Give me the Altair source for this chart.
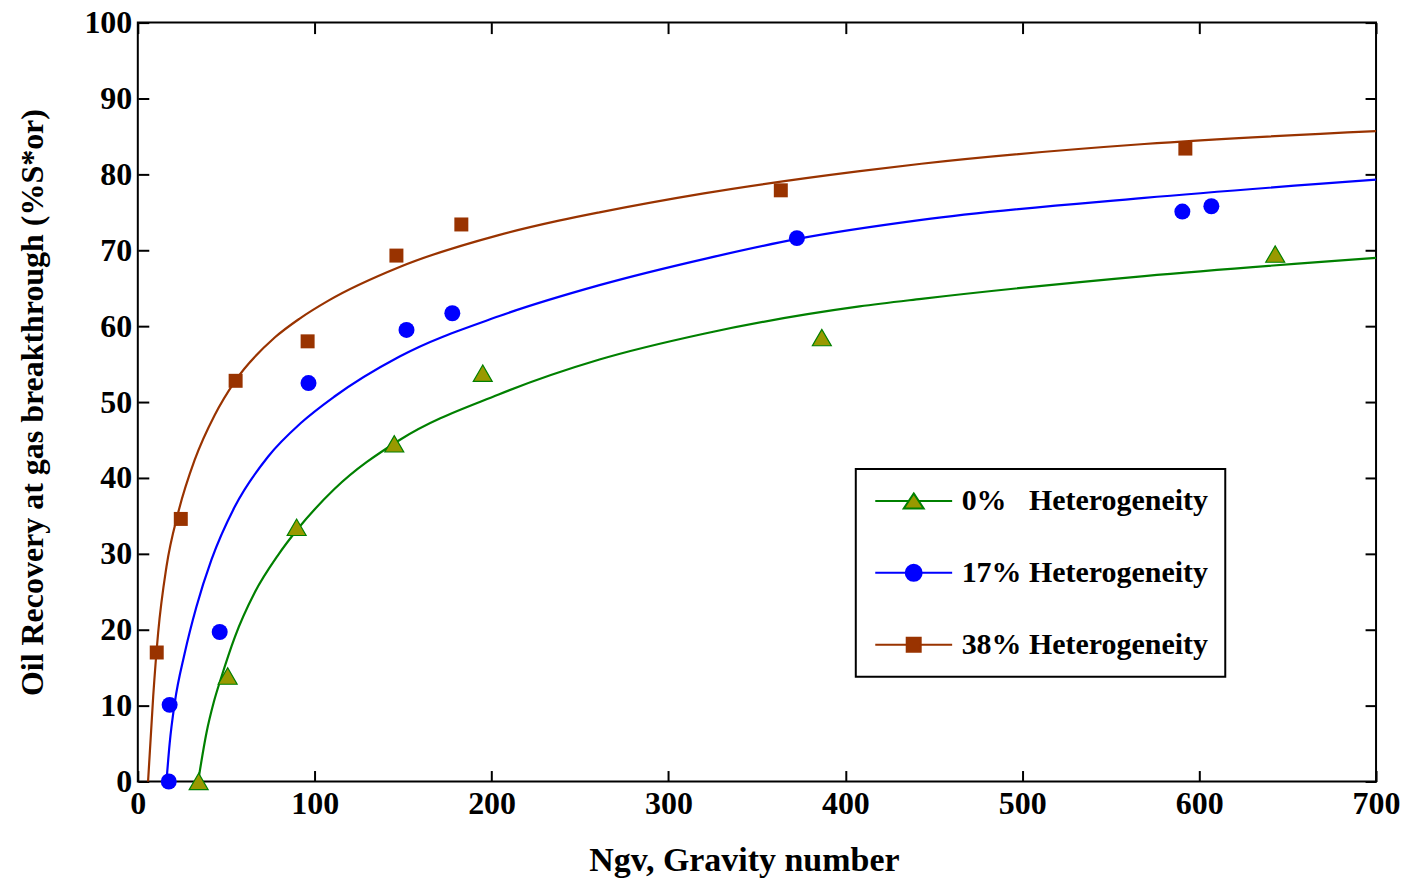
import altair as alt
import pandas as pd

# ---------------- data ----------------
SERIES = ["0%\u00a0\u00a0\u00a0Heterogeneity", "17% Heterogeneity", "38% Heterogeneity"]

# fitted trend curves
FIT0_X = [34.1, 38.8, 43, 47.3, 54.8, 66.1, 79.2, 90.5, 111, 148, 204, 261, 320, 408, 443, 569, 700]
FIT0_Y = [0, 6.4, 10.5, 13.8, 19.0, 24.9, 29.8, 33.3, 38.5, 45.0, 51.0, 55.6, 59.0, 62.6, 63.6, 66.6, 69.0]

FIT1_X = [16.2, 18, 20.9, 26.5, 33.1, 41.6, 54.8, 73.6, 92, 111, 148, 204, 261, 323, 373, 443, 569, 700]
FIT1_Y = [0, 5, 10.4, 16.9, 23.0, 29.2, 36.2, 42.8, 47.2, 50.7, 56.0, 61.3, 65.4, 69.0, 71.5, 74.0, 76.9, 79.3]

FIT2_X = [5.8, 8.7, 11.5, 16.2, 22.8, 32.2, 43.5, 54.8, 77.4, 91.5, 108, 148, 204, 238, 261, 320, 407, 443, 569, 700]
FIT2_Y = [0, 11.2, 19.6, 28.3, 35.4, 42.4, 48.3, 52.7, 58.5, 61.0, 63.4, 67.8, 72.0, 73.9, 75.0, 77.5, 80.4, 81.4, 84.0, 85.7]

# measured points
P0_X = [34.4, 50.8, 89.8, 145, 195, 386.7, 643]
P0_Y = [0, 13.9, 33.5, 44.5, 53.8, 58.5, 69.5]
P1_X = [17.5, 18, 46.3, 96.5, 151.9, 177.8, 372.6, 590.5, 606.9]
P1_Y = [0, 10.1, 19.7, 52.5, 59.5, 61.7, 71.6, 75.1, 75.8]
P2_X = [10.7, 24.3, 55.3, 96, 146.2, 182.9, 363.5, 592.2]
P2_Y = [17, 34.6, 52.8, 58.0, 69.3, 73.4, 77.9, 83.4]

X_TICKS = [0, 100, 200, 300, 400, 500, 600, 700]
Y_TICKS = [0, 10, 20, 30, 40, 50, 60, 70, 80, 90, 100]

# ---------------- styling ----------------
W, H = 1240, 760
FONT = "Liberation Serif"
GREEN, OLIVE, BLUE, BROWN = "#008000", "#999900", "#0000FF", "#993300"

# legend symbols: line sample with marker in the middle (unit = sqrt(size)/2)
SYM_TRI = "M-3.85,0H-0.5M0.5,0H3.85M0,-0.75L1,0.75L-1,0.75Z"
SYM_CIR = "M-3.85,0H-0.8M0.8,0H3.85M-0.8,0A0.8,0.8 0 1,0 0.8,0A0.8,0.8 0 1,0 -0.8,0Z"
SYM_SQR = "M-3.85,0H-0.7M0.7,0H3.85M-0.7,-0.7H0.7V0.7H-0.7Z"

xscale = alt.Scale(domain=[0, 700], nice=False, zero=False)
yscale = alt.Scale(domain=[0, 100], nice=False, zero=False)


def df(xs, ys):
    return pd.DataFrame({"x": xs, "y": ys})


tick_common = dict(labels=False, domain=False, title=None, grid=False,
                   tickSize=11, tickWidth=2, tickColor="black")

axis_x_main = alt.Axis(values=X_TICKS, title="Ngv, Gravity number", ticks=False, domain=False,
                       grid=False, labelFont=FONT, labelFontSize=32, labelFontWeight="bold",
                       labelColor="black", labelPadding=7, labelFlush=False,
                       titleFont=FONT, titleFontSize=34, titleFontWeight="bold",
                       titleColor="black", titlePadding=24, titleX=607, titleAlign="center")
axis_y_main = alt.Axis(values=Y_TICKS, title="Oil Recovery at gas breakthrough (%S*or)",
                       ticks=False, domain=False, grid=False, labelFont=FONT, labelFontSize=32,
                       labelFontWeight="bold", labelColor="black", labelPadding=6,
                       titleFont=FONT, titleFontSize=32, titleFontWeight="bold",
                       titleColor="black", titlePadding=34)

# inward ticks on all four sides
axis_x_bottom_in = alt.Axis(orient="top", offset=-H, values=X_TICKS, **tick_common)
axis_y_left_in = alt.Axis(orient="right", offset=-W, values=Y_TICKS, **tick_common)
axis_x_top_in = alt.Axis(orient="bottom", offset=-H, values=X_TICKS, **tick_common)
axis_y_right_in = alt.Axis(orient="left", offset=-W, values=Y_TICKS, **tick_common)

line0 = alt.Chart(df(FIT0_X, FIT0_Y)).mark_line(color=GREEN, strokeWidth=2.2, interpolate="monotone").encode(
    x=alt.X("x:Q", scale=xscale, axis=axis_x_main),
    y=alt.Y("y:Q", scale=yscale, axis=axis_y_main),
)
line1 = alt.Chart(df(FIT1_X, FIT1_Y)).mark_line(color=BLUE, strokeWidth=2.2, interpolate="monotone").encode(
    x=alt.X("x:Q", scale=xscale, axis=axis_x_bottom_in),
    y=alt.Y("y:Q", scale=yscale, axis=axis_y_left_in),
)
line2 = alt.Chart(df(FIT2_X, FIT2_Y)).mark_line(color=BROWN, strokeWidth=2.2, interpolate="monotone").encode(
    x=alt.X("x:Q", scale=xscale, axis=axis_x_top_in),
    y=alt.Y("y:Q", scale=yscale, axis=axis_y_right_in),
)

pts0 = alt.Chart(df(P0_X, P0_Y)).mark_point(shape="triangle-up", filled=True, fill=OLIVE, stroke=GREEN,
                                            strokeWidth=1.2, size=360, opacity=1).encode(
    x=alt.X("x:Q", scale=xscale, axis=None), y=alt.Y("y:Q", scale=yscale, axis=None))
pts1 = alt.Chart(df(P1_X, P1_Y)).mark_point(shape="circle", filled=True, color=BLUE,
                                            size=256, opacity=1).encode(
    x=alt.X("x:Q", scale=xscale, axis=None), y=alt.Y("y:Q", scale=yscale, axis=None))
pts2 = alt.Chart(df(P2_X, P2_Y)).mark_point(shape="square", filled=True, color=BROWN,
                                            size=196, opacity=1).encode(
    x=alt.X("x:Q", scale=xscale, axis=None), y=alt.Y("y:Q", scale=yscale, axis=None))

legend = alt.Legend(orient="none", legendX=719, legendY=447, title=None,
                    labelFont=FONT, labelFontSize=30, labelFontWeight="bold", labelColor="black",
                    labelLimit=500, strokeColor="black", fillColor="white", padding=17,
                    symbolSize=400, symbolStrokeWidth=2, symbolOffset=26, labelOffset=33,
                    rowPadding=42)

leg = alt.Chart(pd.DataFrame({"series": SERIES})).transform_filter("false").mark_point(
    opacity=1, strokeWidth=2).encode(
    shape=alt.Shape("series:N", scale=alt.Scale(domain=SERIES, range=[SYM_TRI, SYM_CIR, SYM_SQR]), legend=legend),
    fill=alt.Fill("series:N", scale=alt.Scale(domain=SERIES, range=[OLIVE, BLUE, BROWN]), legend=legend),
    stroke=alt.Stroke("series:N", scale=alt.Scale(domain=SERIES, range=[GREEN, BLUE, BROWN]), legend=legend),
)

chart = alt.layer(line0, line1, line2, pts0, pts1, pts2, leg).resolve_axis(
    x="independent", y="independent"
).properties(
    width=W, height=H, padding={"left": 17, "top": 6, "right": 10, "bottom": 5},
    background="white",
).configure_view(stroke="black", strokeWidth=2).configure_legend(strokeWidth=2)

chart.save("out.html", embed_options={"renderer": "svg", "actions": False})
